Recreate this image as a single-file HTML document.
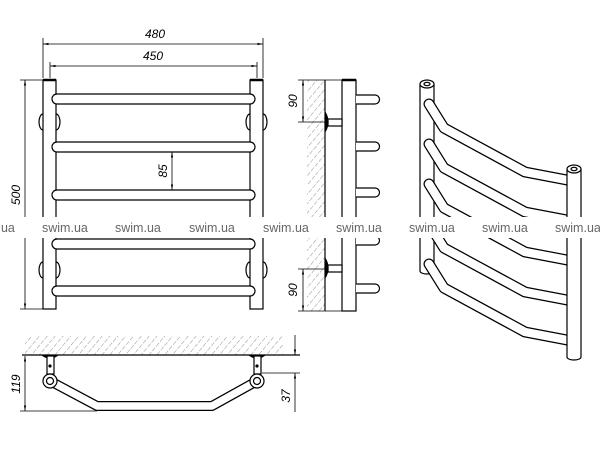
<!DOCTYPE html>
<html><head><meta charset="utf-8"><style>
html,body{margin:0;padding:0;background:#fff;}
svg{display:block;}
text{font-family:"Liberation Sans",sans-serif;}
</style></head><body>
<svg width="600" height="450" viewBox="0 0 600 450" xmlns="http://www.w3.org/2000/svg">
<defs>
<pattern id="h" width="6" height="6" patternUnits="userSpaceOnUse" patternTransform="rotate(40)">
<line x1="0" y1="0" x2="0" y2="6" stroke="#777" stroke-width="0.8" stroke-dasharray="3 1.5"/>
</pattern>
<marker id="a" viewBox="0 0 10 10" refX="10" refY="5" markerWidth="7" markerHeight="7" orient="auto-start-reverse"><path d="M0,3 L10,5 L0,7z" fill="#000"/></marker>
</defs>
<g fill="none" stroke="#000" stroke-width="1.2">
<rect x="43" y="80" width="13" height="229" fill="#fff"/>
<rect x="250" y="80" width="13" height="229" fill="#fff"/>
<line x1="43" y1="80" x2="56" y2="80" stroke-width="2.5"/>
<line x1="250" y1="80" x2="263" y2="80" stroke-width="2.5"/>
<path d="M43,114 a4,8 0 0 0 0,16 M56,114 a4,8 0 0 1 0,16 M250,114 a4,8 0 0 0 0,16 M263,114 a4,8 0 0 1 0,16"/>
<path d="M43,262 a4,8 0 0 0 0,16 M56,262 a4,8 0 0 1 0,16 M250,262 a4,8 0 0 0 0,16 M263,262 a4,8 0 0 1 0,16"/>
<g fill="#fff">
<rect x="52" y="94" width="203" height="10" rx="5"/>
<rect x="52" y="142" width="203" height="10" rx="5"/>
<rect x="52" y="190" width="203" height="10" rx="5"/>
<rect x="52" y="239" width="203" height="10" rx="5"/>
<rect x="52" y="286" width="203" height="10" rx="5"/>
</g>
<g stroke-width="0.8">
<line x1="43" y1="78" x2="43" y2="38"/><line x1="263" y1="78" x2="263" y2="38"/>
<line x1="43" y1="44" x2="263" y2="44" marker-start="url(#a)" marker-end="url(#a)"/>
<line x1="50" y1="62" x2="50" y2="78"/><line x1="257" y1="62" x2="257" y2="78"/>
<line x1="50" y1="66" x2="257" y2="66" marker-start="url(#a)" marker-end="url(#a)"/>
<line x1="20" y1="80" x2="43" y2="80"/><line x1="20" y1="309" x2="43" y2="309"/>
<line x1="25" y1="80" x2="25" y2="309" marker-start="url(#a)" marker-end="url(#a)"/>
<line x1="172" y1="152" x2="172" y2="190" marker-start="url(#a)" marker-end="url(#a)"/>
</g>
<rect x="307" y="80" width="18" height="231" fill="url(#h)" stroke="none"/>
<line x1="325" y1="80" x2="325" y2="311"/>
<rect x="342" y="80" width="14" height="231" fill="#fff"/>
<line x1="342" y1="80" x2="356" y2="80" stroke-width="2.5"/>
<g fill="#fff">
<path d="M356,95 H375 a4.5,4.5 0 0 1 0,9 H356"/>
<path d="M356,142 H375 a4.5,4.5 0 0 1 0,9 H356"/>
<path d="M356,188 H375 a4.5,4.5 0 0 1 0,9 H356"/>
<path d="M356,236 H375 a4.5,4.5 0 0 1 0,9 H356"/>
<path d="M356,284 H375 a4.5,4.5 0 0 1 0,9 H356"/>
</g>
<rect x="328" y="119" width="14" height="7" fill="#fff"/>
<path d="M325,112 q6,10 0,20" fill="#000"/>
<rect x="328" y="265" width="14" height="7" fill="#fff"/>
<path d="M325,258 q6,10 0,20" fill="#000"/>
<g stroke-width="0.8">
<line x1="298" y1="80" x2="342" y2="80"/><line x1="298" y1="122" x2="325" y2="122"/>
<line x1="303" y1="80" x2="303" y2="122" marker-start="url(#a)" marker-end="url(#a)"/>
<line x1="298" y1="269" x2="325" y2="269"/><line x1="298" y1="311" x2="342" y2="311"/>
<line x1="303" y1="269" x2="303" y2="311" marker-start="url(#a)" marker-end="url(#a)"/>
</g>
<path d="M420,84 V271 a7,3 0 0 0 14,0 V84" fill="#fff"/>
<ellipse cx="427" cy="84" rx="7" ry="4" fill="#fff"/>
<ellipse cx="427" cy="84" rx="3" ry="1.7"/>
<g stroke-linecap="round" stroke-linejoin="round">
<g stroke="#000" stroke-width="11">
<polyline points="429,104 444,128 525,172 567,180"/>
<polyline points="429,144 444,168 525,212 567,220"/>
<polyline points="429,184 444,208 525,252 567,260"/>
<polyline points="429,224 444,248 525,292 567,300"/>
<polyline points="429,264 444,288 525,332 567,340"/>
</g>
<g stroke="#fff" stroke-width="8.5">
<polyline points="429,104 444,128 525,172 567,180"/>
<polyline points="429,144 444,168 525,212 567,220"/>
<polyline points="429,184 444,208 525,252 567,260"/>
<polyline points="429,224 444,248 525,292 567,300"/>
<polyline points="429,264 444,288 525,332 567,340"/>
</g>
</g>
<path d="M567,169 V357 a7,3 0 0 0 14,0 V169" fill="#fff"/>
<ellipse cx="574" cy="169" rx="7" ry="4" fill="#fff"/>
<ellipse cx="574" cy="169" rx="3" ry="1.7"/>
<rect x="25" y="336" width="258" height="19" fill="url(#h)" stroke="none"/>
<line x1="22" y1="355" x2="300" y2="355"/>
<path d="M42,355 q8,6 16,0" fill="#000"/>
<path d="M249,355 q8,6 16,0" fill="#000"/>
<rect x="47" y="356" width="7" height="18" fill="#fff"/>
<rect x="254" y="356" width="7" height="18" fill="#fff"/>
<circle cx="50" cy="366" r="1" fill="#000"/><circle cx="257" cy="366" r="1" fill="#000"/>
<g stroke-linejoin="round">
<polyline points="50,381 97,406 212,406 257,381" stroke="#000" stroke-width="10"/>
<polyline points="50,381 97,406 212,406 257,381" stroke="#fff" stroke-width="7.5"/>
</g>
<circle cx="50" cy="381" r="7" fill="#fff"/><circle cx="50" cy="381" r="3.5"/>
<circle cx="257" cy="381" r="7" fill="#fff"/><circle cx="257" cy="381" r="3.5"/>
<g stroke-width="0.8">
<line x1="20" y1="411" x2="97" y2="411"/>
<line x1="25" y1="356" x2="25" y2="411" marker-start="url(#a)" marker-end="url(#a)"/>
<line x1="262" y1="373" x2="300" y2="373"/>
<line x1="295" y1="335" x2="295" y2="355" marker-end="url(#a)"/>
<line x1="295" y1="412" x2="295" y2="373" marker-end="url(#a)"/>
</g>
</g>
<g font-size="12" font-style="italic" fill="#000">
<text x="155" y="38" text-anchor="middle">480</text>
<text x="153" y="60" text-anchor="middle">450</text>
<text transform="translate(20,195) rotate(-90)" text-anchor="middle">500</text>
<text transform="translate(167,171) rotate(-90)" text-anchor="middle">85</text>
<text transform="translate(297,101) rotate(-90)" text-anchor="middle">90</text>
<text transform="translate(297,290) rotate(-90)" text-anchor="middle">90</text>
<text transform="translate(20,384) rotate(-90)" text-anchor="middle">119</text>
<text transform="translate(290,396) rotate(-90)" text-anchor="middle">37</text>
</g>
<rect x="0" y="217" width="600" height="21" fill="#fff"/>
<g font-size="12.5" fill="#666">
<text x="-31" y="232">swim.ua</text>
<text x="42" y="232">swim.ua</text>
<text x="115" y="232">swim.ua</text>
<text x="189" y="232">swim.ua</text>
<text x="263" y="232">swim.ua</text>
<text x="336" y="232">swim.ua</text>
<text x="409" y="232">swim.ua</text>
<text x="482" y="232">swim.ua</text>
<text x="555" y="232">swim.ua</text>
</g>
</svg>
</body></html>
